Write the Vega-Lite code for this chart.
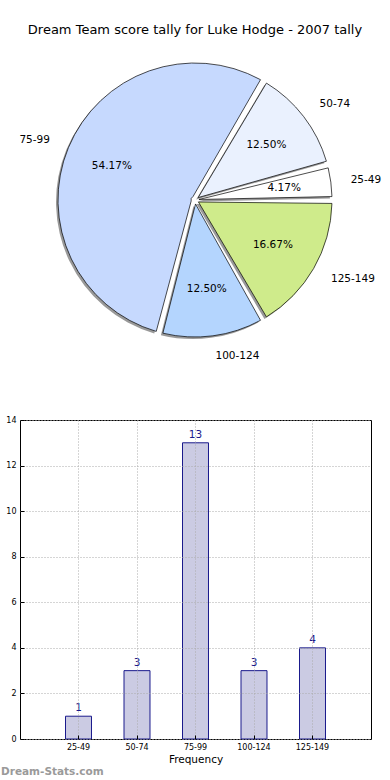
{
  "$schema": "https://vega.github.io/schema/vega-lite/v6.json",
  "padding": {"left": 0, "top": 24, "right": 0, "bottom": 0},
  "bounds": "flush",
  "spacing": 61,
  "config": {"font": "DejaVu Sans", "view": {"stroke": null}},
  "datasets": {
    "tally": [
      {"range": "25-49", "n": 1, "i": 1, "pct": "4.17%"},
      {"range": "50-74", "n": 3, "i": 2, "pct": "12.50%"},
      {"range": "75-99", "n": 13, "i": 3, "pct": "54.17%"},
      {"range": "100-124", "n": 3, "i": 4, "pct": "12.50%"},
      {"range": "125-149", "n": 4, "i": 5, "pct": "16.67%"}
    ]
  },
  "vconcat": [
    {
      "width": 350,
      "height": 318,
      "title": {"text": "Dream Team score tally for Luke Hodge - 2007 tally", "fontSize": 13, "fontWeight": "normal", "color": "black", "offset": 4},
      "data": {"name": "tally"},
      "encoding": {
        "theta": {"field": "n", "type": "quantitative", "stack": true, "scale": {"range": [1.5708, 7.854]}},
        "order": {"field": "i", "sort": "descending"}
      },
      "layer": [
        {"mark": {"type": "arc", "radius": 137, "radius2": 4, "padAngle": 0.05, "fill": "#555555", "opacity": 0.6, "xOffset": -2, "yOffset": 2}},
        {
          "mark": {"type": "arc", "radius": 137, "radius2": 4, "padAngle": 0.05, "stroke": "black", "strokeWidth": 0.7},
          "encoding": {
            "color": {"field": "range", "type": "nominal", "scale": {"domain": ["25-49", "50-74", "75-99", "100-124", "125-149"], "range": ["#ffffff", "#eaf1fe", "#c6d9fe", "#b4d5fe", "#cfeb8b"]}, "legend": null}
          }
        },
        {"mark": {"type": "text", "radius": 90, "fontSize": 10.5, "color": "black"}, "encoding": {"text": {"field": "pct"}}},
        {"mark": {"type": "text", "radius": 157, "fontSize": 10.5, "color": "black", "align": {"expr": "datum.range === '75-99' ? 'right' : 'left'"}}, "encoding": {"text": {"field": "range"}}}
      ]
    },
    {
      "width": 351,
      "height": 319,
      "view": {"stroke": "black", "strokeWidth": 1},
      "title": {"text": "Dream-Stats.com", "orient": "bottom", "anchor": "start", "frame": "group", "dx": -19, "fontSize": 10.5, "fontWeight": "bold", "color": "#9a9a9a", "offset": 2},
      "data": {"name": "tally"},
      "encoding": {
        "x": {
          "field": "range", "type": "nominal", "sort": null,
          "scale": {"paddingInner": 0.5556, "paddingOuter": 0.7778},
          "axis": {"title": "Frequency", "titleFontSize": 10.5, "titleFontWeight": "normal", "titleColor": "black", "titlePadding": 3, "labelAngle": 0, "labelFontSize": 8, "labelColor": "black", "domain": false, "tickSize": -4, "tickColor": "black", "labelPadding": 8, "grid": true, "gridDash": [1, 2], "gridColor": "#aaaaaa", "bandPosition": 0.5, "zindex": 1}
        },
        "y": {
          "field": "n", "type": "quantitative",
          "scale": {"domain": [0, 14], "nice": false},
          "axis": {"title": null, "values": [0, 2, 4, 6, 8, 10, 12, 14], "labelFontSize": 8, "labelColor": "black", "domain": false, "tickSize": -4, "tickColor": "black", "labelPadding": 8, "grid": true, "gridDash": [1, 2], "gridColor": "#aaaaaa", "zindex": 1}
        }
      },
      "layer": [
        {"mark": {"type": "bar", "fill": "#cbcbe3", "stroke": "#1a1a8c", "strokeWidth": 1}},
        {"mark": {"type": "text", "baseline": "bottom", "dy": -3, "fontSize": 10.5, "color": "#1a1a8c"}, "encoding": {"text": {"field": "n"}}}
      ]
    }
  ]
}
